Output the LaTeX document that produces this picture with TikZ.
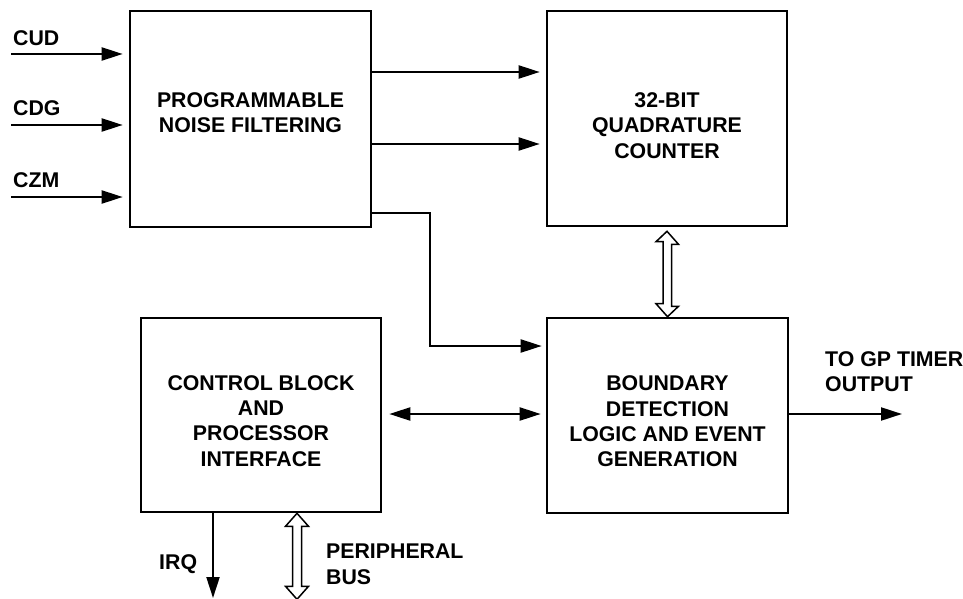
\documentclass[tikz,border=0pt]{standalone}
\usepackage{fontspec}
\setmainfont{Liberation Sans}
\usetikzlibrary{arrows.meta,calc}
\tikzset{
  box/.style={draw, line width=2.6pt, rectangle, inner sep=0pt},
  txt/.style={font=\bfseries\fontsize{21.3}{25.3}\selectfont, align=center, inner sep=0pt},
  lbl/.style={font=\bfseries\fontsize{21.3}{25.3}\selectfont, align=left, inner sep=0pt},
  arr/.style={line width=2.1pt, -{Triangle[length=21pt,width=13pt]}},
  darr/.style={line width=2.1pt, {Triangle[length=21pt,width=13pt]}-{Triangle[length=21pt,width=13pt]}},
  hollow/.style={line width=1.5pt, fill=white, line join=miter},
}
\begin{document}
\begin{tikzpicture}[x=1pt,y=-1pt]
\useasboundingbox (0,0) rectangle (963,599);

% boxes
\node[box, minimum width=241pt, minimum height=216pt,
  label={[txt,yshift=6pt]center:PROGRAMMABLE\\NOISE FILTERING}] (noise) at (250.5,119) {};
\node[box, minimum width=240pt, minimum height=215pt,
  label={[txt,yshift=-7pt]center:32-BIT\\QUADRATURE\\COUNTER}] (counter) at (667,118.5) {};
\node[box, minimum width=240pt, minimum height=194pt,
  label={[txt,yshift=-6pt]center:CONTROL BLOCK\\AND\\PROCESSOR\\INTERFACE}] (control) at (261,415) {};
\node[box, minimum width=241pt, minimum height=195pt,
  label={[txt,yshift=-6pt]center:BOUNDARY\\DETECTION\\LOGIC AND EVENT\\GENERATION}] (boundary) at (667.5,415.5) {};

% input labels and arrows
\node[lbl, anchor=base west] (lcud) at (13,45.5) {CUD};
\node[lbl, anchor=base west] (lcdg) at (13,115.5) {CDG};
\node[lbl, anchor=base west] (lczm) at (13,187.5) {CZM};
\coordinate (icud) at (11,54);
\coordinate (icdg) at (11,125);
\coordinate (iczm) at (11,197);
\draw[arr, shorten >=6pt] (icud) -- (icud -| noise.west);
\draw[arr, shorten >=6pt] (icdg) -- (icdg -| noise.west);
\draw[arr, shorten >=6pt] (iczm) -- (iczm -| noise.west);

% noise -> counter
\coordinate (n1) at ($(noise.east)+(0,-47)$);
\coordinate (n2) at ($(noise.east)+(0,25)$);
\draw[arr, shorten >=6pt] (n1) -- (n1 -| counter.west);
\draw[arr, shorten >=6pt] (n2) -- (n2 -| counter.west);

% noise -> boundary elbow
\coordinate (e1) at ($(noise.east)+(0,94)$);
\coordinate (e2) at (430,213);
\coordinate (e3) at (430,346);
\draw[arr, shorten >=4pt] (e1) -- (e2) -- (e3) -- (e3 -| boundary.west);

% control <-> boundary
\coordinate (c1) at (381,414);
\draw[darr, shorten <=7pt, shorten >=5pt] (c1 -| control.east) -- (c1 -| boundary.west);

% boundary -> output
\coordinate (out) at (902,414);
\draw[arr] (out -| boundary.east) -- (out);
\node[lbl, anchor=north west] (lout) at (825,351) {TO GP TIMER\\OUTPUT};

% counter <-> boundary hollow double arrow
\draw[hollow] ($(counter.south)+(0,4)$) -- ++(11.5,13) -- ++(-7,0) -- ++(0,62) -- ++(7,0)
  -- (boundary.north) -- ++(-11.5,-13) -- ++(7,0) -- ++(0,-62) -- ++(-7,0) -- cycle;

% IRQ
\coordinate (irq) at (213,598);
\draw[arr] (irq |- control.south) -- (irq);
\node[lbl, anchor=base west] (lirq) at (159,569) {IRQ};

% peripheral bus hollow double arrow
\draw[hollow] ($(control.south)+(36,0)$) -- ++(11.5,13) -- ++(-7,0) -- ++(0,60) -- ++(7,0)
  -- ++(-11.5,13) -- ++(-11.5,-13) -- ++(7,0) -- ++(0,-60) -- ++(-7,0) -- cycle;
\node[lbl, anchor=north west] (lbus) at (326,544) {PERIPHERAL\\BUS};
\end{tikzpicture}
\end{document}
